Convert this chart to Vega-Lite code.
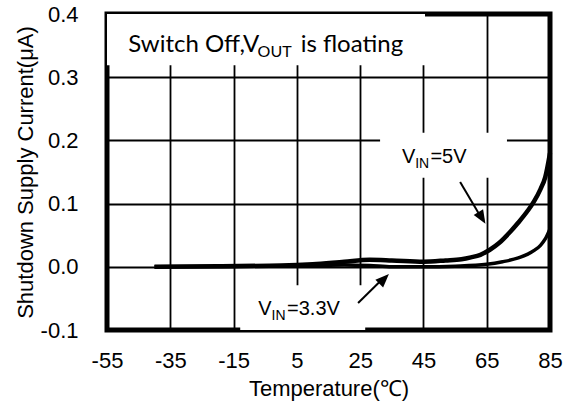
{
  "$schema": "https://vega.github.io/schema/vega-lite/v6.json",
  "width": 443,
  "height": 316,
  "autosize": {"type": "none"},
  "padding": {"left": 107, "top": 14, "right": 14, "bottom": 75},
  "background": "white",
  "config": {
    "view": {"stroke": "black", "strokeWidth": 5},
    "axis": {
      "grid": true,
      "gridColor": "black",
      "gridWidth": 1.8,
      "gridOpacity": 1,
      "ticks": false,
      "tickSize": 0,
      "domain": false,
      "labelFont": "Liberation Sans",
      "labelFontSize": 22,
      "labelColor": "black",
      "labelFlush": false,
      "titleFont": "Liberation Sans",
      "titleFontSize": 22,
      "titleFontWeight": "normal",
      "titleColor": "black"
    }
  },
  "datasets": {
    "v5": [
      {"t": -40, "i": 0.0},
      {"t": -20, "i": 0.001},
      {"t": 0, "i": 0.002},
      {"t": 10, "i": 0.004},
      {"t": 20, "i": 0.008},
      {"t": 28, "i": 0.011},
      {"t": 35, "i": 0.010},
      {"t": 45, "i": 0.008},
      {"t": 52, "i": 0.010},
      {"t": 57, "i": 0.012},
      {"t": 60, "i": 0.015},
      {"t": 63, "i": 0.019},
      {"t": 66, "i": 0.027},
      {"t": 69, "i": 0.038},
      {"t": 72, "i": 0.053},
      {"t": 75, "i": 0.070},
      {"t": 78, "i": 0.089},
      {"t": 80, "i": 0.104},
      {"t": 82, "i": 0.123},
      {"t": 83.5, "i": 0.142},
      {"t": 85, "i": 0.18}
    ],
    "v33": [
      {"t": -40, "i": 0.0},
      {"t": -20, "i": 0.0005},
      {"t": 0, "i": 0.001},
      {"t": 10, "i": 0.002},
      {"t": 20, "i": 0.003},
      {"t": 28, "i": 0.002},
      {"t": 35, "i": 0.0},
      {"t": 45, "i": 0.0},
      {"t": 55, "i": 0.001},
      {"t": 65, "i": 0.004},
      {"t": 70, "i": 0.008},
      {"t": 75, "i": 0.014},
      {"t": 78, "i": 0.020},
      {"t": 80, "i": 0.026},
      {"t": 82, "i": 0.034},
      {"t": 83.5, "i": 0.044},
      {"t": 85, "i": 0.06}
    ],
    "boxes": [
      {"x": -55, "x2": 45.5, "y": 0.319, "y2": 0.4},
      {"x": 31.3, "x2": 71.4, "y": 0.141, "y2": 0.212},
      {"x": -12.9, "x2": 26.6, "y": -0.1, "y2": -0.029}
    ],
    "shafts": [
      {"x": 56.6, "y": 0.134, "x2": 63.0, "y2": 0.08},
      {"x": 24.35, "y": -0.0573, "x2": 31.5, "y2": -0.022}
    ]
  },
  "layer": [
    {
      "data": {"name": "boxes"},
      "mark": {"type": "rect", "fill": "white", "stroke": null},
      "encoding": {
        "x": {"field": "x", "type": "quantitative", "scale": {"domain": [-55, 85], "nice": false, "zero": false},
          "axis": {"values": [-55, -35, -15, 5, 25, 45, 65, 85], "labelPadding": 20, "titlePadding": 7,
            "labelExpr": "replace(format(datum.value, 'd'), '\u2212', '-')"},
          "title": "Temperature(℃)"},
        "x2": {"field": "x2"},
        "y": {"field": "y", "type": "quantitative", "scale": {"domain": [-0.1, 0.4], "nice": false, "zero": false},
          "axis": {"values": [-0.1, 0, 0.1, 0.2, 0.3, 0.4], "labelPadding": 29, "titlePadding": 3,
            "labelExpr": "replace(format(datum.value, '.1f'), '\u2212', '-')"},
          "title": "Shutdown Supply Current(μA)"},
        "y2": {"field": "y2"}
      }
    },
    {
      "data": {"name": "v33"},
      "mark": {"type": "line", "color": "black", "strokeWidth": 3.5, "interpolate": "monotone"},
      "encoding": {
        "x": {"field": "t", "type": "quantitative"},
        "y": {"field": "i", "type": "quantitative"}
      }
    },
    {
      "data": {"name": "v5"},
      "mark": {"type": "line", "color": "black", "strokeWidth": 4.5, "interpolate": "monotone"},
      "encoding": {
        "x": {"field": "t", "type": "quantitative"},
        "y": {"field": "i", "type": "quantitative"}
      }
    },
    {
      "data": {"name": "shafts"},
      "mark": {"type": "rule", "color": "black", "strokeWidth": 2},
      "encoding": {
        "x": {"field": "x", "type": "quantitative"},
        "y": {"field": "y", "type": "quantitative"},
        "x2": {"field": "x2"},
        "y2": {"field": "y2"}
      }
    },
    {
      "data": {"values": [{"x": 64.6, "y": 0.068}]},
      "mark": {"type": "point", "shape": "M0,0L-0.4,1L0.4,1Z", "filled": true, "color": "black", "opacity": 1, "size": 750, "angle": 149},
      "encoding": {
        "x": {"field": "x", "type": "quantitative"},
        "y": {"field": "y", "type": "quantitative"}
      }
    },
    {
      "data": {"values": [{"x": 34.1, "y": -0.0114}]},
      "mark": {"type": "point", "shape": "M0,0L-0.4,1L0.4,1Z", "filled": true, "color": "black", "opacity": 1, "size": 750, "angle": 45},
      "encoding": {
        "x": {"field": "x", "type": "quantitative"},
        "y": {"field": "y", "type": "quantitative"}
      }
    },
    {
      "data": {"values": [{"x": -48.3, "y": 0.3399, "label": "Switch Off,V"}, {"x": 6.2, "y": 0.3399, "label": "is floating"}]},
      "mark": {"type": "text", "font": "Lato", "fontSize": 24, "align": "left", "baseline": "alphabetic", "color": "black"},
      "encoding": {
        "x": {"field": "x", "type": "quantitative"},
        "y": {"field": "y", "type": "quantitative"},
        "text": {"field": "label"}
      }
    },
    {
      "data": {"values": [{"x": -7.4, "y": 0.332, "label": "OUT"}]},
      "mark": {"type": "text", "font": "Lato", "fontSize": 16, "align": "left", "baseline": "alphabetic", "color": "black"},
      "encoding": {
        "x": {"field": "x", "type": "quantitative"},
        "y": {"field": "y", "type": "quantitative"},
        "text": {"field": "label"}
      }
    },
    {
      "data": {"values": [{"x": 38.2, "y": 0.1642, "label": "V"}, {"x": 47.2, "y": 0.1642, "label": "=5V"}, {"x": -7.2, "y": -0.0763, "label": "V"}, {"x": 1.9, "y": -0.0763, "label": "=3.3V"}]},
      "mark": {"type": "text", "font": "Liberation Sans", "fontSize": 20, "align": "left", "baseline": "alphabetic", "color": "black"},
      "encoding": {
        "x": {"field": "x", "type": "quantitative"},
        "y": {"field": "y", "type": "quantitative"},
        "text": {"field": "label"}
      }
    },
    {
      "data": {"values": [{"x": 42.4, "y": 0.1563, "label": "IN"}, {"x": -3.0, "y": -0.0842, "label": "IN"}]},
      "mark": {"type": "text", "font": "Liberation Sans", "fontSize": 14, "align": "left", "baseline": "alphabetic", "color": "black"},
      "encoding": {
        "x": {"field": "x", "type": "quantitative"},
        "y": {"field": "y", "type": "quantitative"},
        "text": {"field": "label"}
      }
    }
  ]
}
